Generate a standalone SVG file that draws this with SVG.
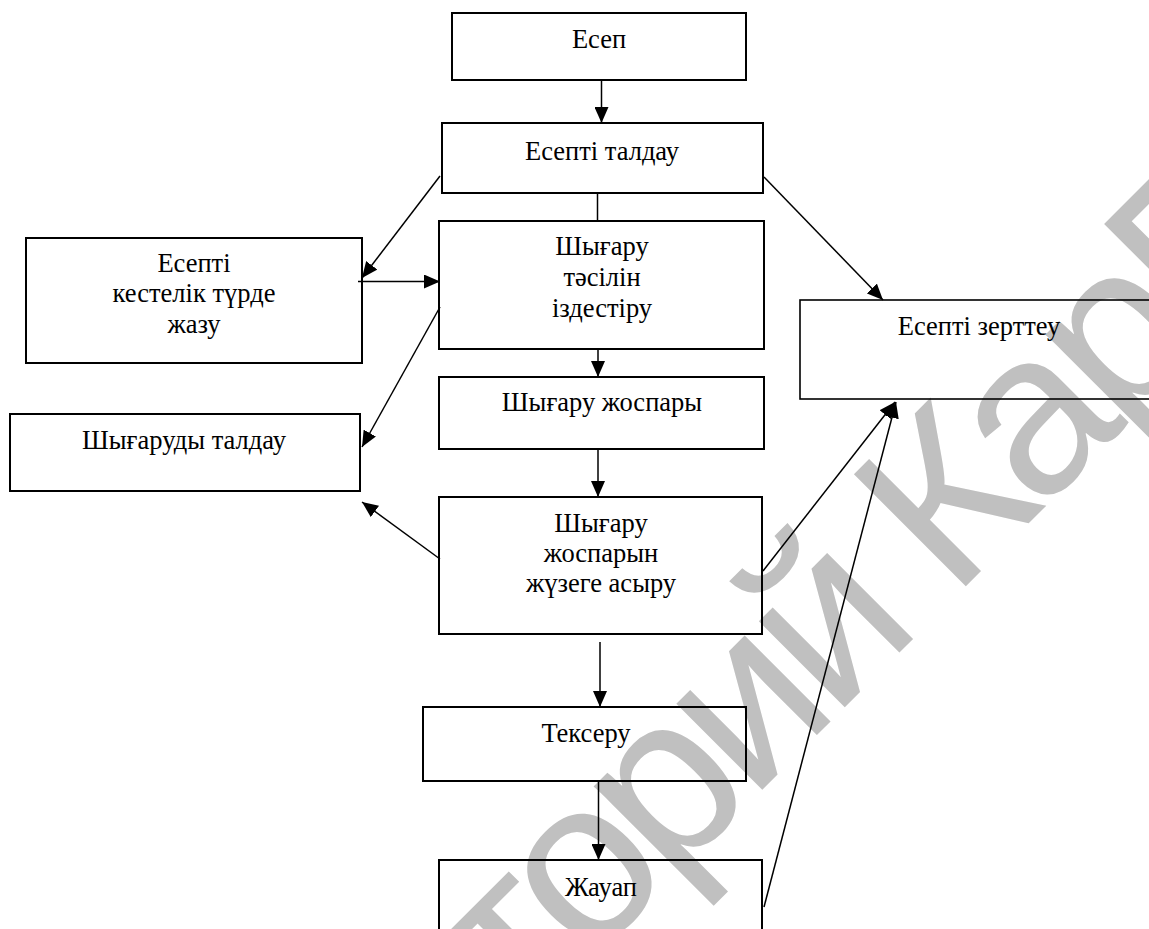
<svg xmlns="http://www.w3.org/2000/svg" width="1149" height="929" viewBox="0 0 1149 929">
<defs>
<marker id="ah" markerUnits="userSpaceOnUse" markerWidth="16" markerHeight="14" refX="16" refY="7" orient="auto">
<path d="M0,0 L16,7 L0,14 z" fill="#000"/>
</marker>
<style>
.box{fill:none;stroke:#000;stroke-width:2}
.t{font-family:"Liberation Serif","Times New Roman",serif;font-size:26.5px;fill:#000;text-anchor:middle}
.c{stroke:#000;stroke-width:1.5;fill:none}
.a{marker-end:url(#ah)}
.wm{font-family:"Liberation Sans",Arial,sans-serif;font-size:230px;letter-spacing:-12px;fill:#c0c0c0}
</style>
</defs>
<rect width="1149" height="929" fill="#fff"/>
<text class="wm" transform="translate(40,1512) rotate(-45)">Репозиторий КарГУ</text>
<g id="n-esep"><rect class="box" x="452" y="13" width="294" height="67"/><text class="t" x="599" y="48">Есеп</text></g>
<g id="n-taldau"><rect class="box" x="442" y="123" width="321" height="70"/><text class="t" x="602" y="160">Есепті талдау</text></g>
<g id="n-keste"><rect class="box" x="26" y="238" width="336" height="125"/><text class="t" x="194" y="272">Есепті</text><text class="t" x="194" y="302">кестелік түрде</text><text class="t" x="194" y="333">жазу</text></g>
<g id="n-tasil"><rect class="box" x="439" y="221" width="325" height="128"/><text class="t" x="602" y="255">Шығару</text><text class="t" x="602" y="286">тәсілін</text><text class="t" x="602" y="317">іздестіру</text></g>
<g id="n-zhospar"><rect class="box" x="439" y="377" width="325" height="72"/><text class="t" x="602" y="411">Шығару жоспары</text></g>
<g id="n-shygtaldau"><rect class="box" x="10" y="414" width="350" height="77"/><text class="t" x="184" y="449">Шығаруды талдау</text></g>
<g id="n-zhuzege"><rect class="box" x="439" y="497" width="323" height="137"/><text class="t" x="601" y="532">Шығару</text><text class="t" x="601" y="562">жоспарын</text><text class="t" x="601" y="592">жүзеге асыру</text></g>
<g id="n-zertteu"><rect class="box" x="800" y="300" width="352" height="99" style="stroke-width:1.6"/><text class="t" x="979" y="335">Есепті зерттеу</text></g>
<g id="n-tekseru"><rect class="box" x="423" y="707" width="323" height="74"/><text class="t" x="586" y="742">Тексеру</text></g>
<g id="n-zhauap"><rect class="box" x="439" y="860" width="323" height="90"/><text class="t" x="601" y="896">Жауап</text></g>
<g id="connectors">
<line class="c a" x1="601.5" y1="80" x2="601.5" y2="123"/>
<line class="c" x1="597.5" y1="193" x2="597.5" y2="221"/>
<line class="c a" x1="440" y1="176" x2="362" y2="278"/>
<line class="c a" x1="358" y1="281.5" x2="440" y2="281.5"/>
<line class="c a" x1="440" y1="307" x2="362" y2="447"/>
<line class="c a" x1="598" y1="349" x2="598" y2="377"/>
<line class="c a" x1="598" y1="449" x2="598" y2="497"/>
<line class="c a" x1="440" y1="559" x2="362" y2="502"/>
<line class="c a" x1="764" y1="177" x2="883" y2="300"/>
<line class="c a" x1="763" y1="571" x2="895" y2="402"/>
<line class="c a" x1="764" y1="907" x2="896" y2="402"/>
<line class="c a" x1="600" y1="642" x2="600" y2="707"/>
<line class="c a" x1="598.5" y1="781" x2="598.5" y2="860"/>
</g>
</svg>
